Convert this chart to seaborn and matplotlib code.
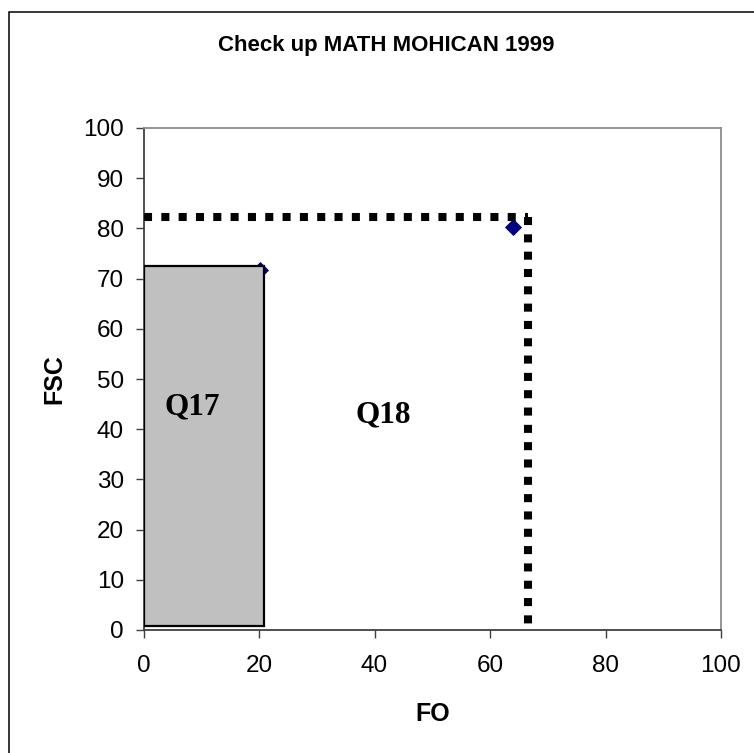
import matplotlib
matplotlib.use("Agg")
import matplotlib.pyplot as plt
import matplotlib.patches as mpatches
import seaborn as sns
import pandas as pd

# ---- data ----
title = "Check up MATH MOHICAN 1999"
x_label = "FO"
y_label = "FSC"
x_ticks = [0, 20, 40, 60, 80, 100]
y_ticks = [0, 10, 20, 30, 40, 50, 60, 70, 80, 90, 100]

point_fo = [20.2, 64.0]
point_fsc = [71.8, 80.3]

q17_left = 0.0
q17_right = 20.8
q17_bottom = 0.8
q17_top = 72.5

threshold_fo = [0.0, 66.5, 66.5]
threshold_fsc = [82.2, 82.2, 0.0]

region_labels = ["Q17", "Q18"]
region_label_x = [8.4, 41.5]
region_label_y = [44.4, 42.8]

# ---- style ----
sns.set_theme(style="white")
plt.rcParams["font.family"] = ["Liberation Sans", "DejaVu Sans"]
plt.rcParams["text.color"] = "black"
plt.rcParams["axes.labelcolor"] = "black"

fig = plt.figure(figsize=(7.54, 7.53), dpi=100)
ax = fig.add_axes([143.5 / 754, 1 - 630 / 753, (721 - 143.5) / 754, (630 - 128) / 753])

# Q17 box
ax.bar(x=q17_left, height=q17_top - q17_bottom, bottom=q17_bottom,
       width=q17_right - q17_left, align="edge",
       color="#c0c0c0", edgecolor="black", linewidth=1.6, zorder=3)

# points
pts = pd.DataFrame({"FO": point_fo, "FSC": point_fsc})
sns.scatterplot(data=pts, x="FO", y="FSC", marker="D", s=65, color="#000080",
                edgecolor="#000080", ax=ax, zorder=2, legend=False)

# threshold dotted lines
hl = pd.DataFrame({"FO": threshold_fo[:2], "FSC": threshold_fsc[:2]})
vl = pd.DataFrame({"FO": threshold_fo[1:], "FSC": threshold_fsc[1:]})
for d in (hl, vl):
    sns.lineplot(data=d, x="FO", y="FSC", ax=ax, color="black", linewidth=5.8,
                 linestyle=(0, (1, 1.15)), sort=False, estimator=None,
                 zorder=4, legend=False)
for line in ax.get_lines():
    line.set_dash_capstyle("butt")
    line.set_clip_on(False)

for lab, lx, ly in zip(region_labels, region_label_x, region_label_y):
    ax.text(lx, ly, lab, ha="center", va="center", fontsize=22.5,
            fontweight="bold", family=["Liberation Serif", "DejaVu Serif"],
            color="black", zorder=5)

ax.set_xlim(0, 100)
ax.set_ylim(0, 100)
ax.set_xticks(x_ticks)
ax.set_yticks(y_ticks)
ax.set_xticklabels([str(t) for t in x_ticks])
ax.set_yticklabels([str(t) for t in y_ticks])
ax.tick_params(axis="both", direction="out", length=6, width=1.0, color="#404040",
               labelsize=17.5, labelcolor="black", bottom=True, left=True)
ax.tick_params(axis="x", pad=12)
ax.tick_params(axis="y", pad=8)

ax.set_xlabel(x_label, fontsize=18, fontweight="bold", labelpad=18, color="black")
ax.set_ylabel(y_label, fontsize=18, fontweight="bold", labelpad=12, color="black")

for side in ("left", "bottom"):
    ax.spines[side].set_color("#404040")
    ax.spines[side].set_linewidth(1.3)
for side in ("top", "right"):
    ax.spines[side].set_color("#8c8c8c")
    ax.spines[side].set_linewidth(1.3)
    ax.spines[side].set_visible(True)

fig.text(386 / 754, 1 - 45 / 753, title, ha="center", va="center",
         fontsize=16, fontweight="bold", color="black")

# outer frame
fig.patches.append(mpatches.Rectangle((9 / 754, -0.1), 1.2, 1.1 - 12 / 753,
                                      transform=fig.transFigure, fill=False,
                                      edgecolor="black", linewidth=1.1))

fig.savefig("out.png", dpi=100)
